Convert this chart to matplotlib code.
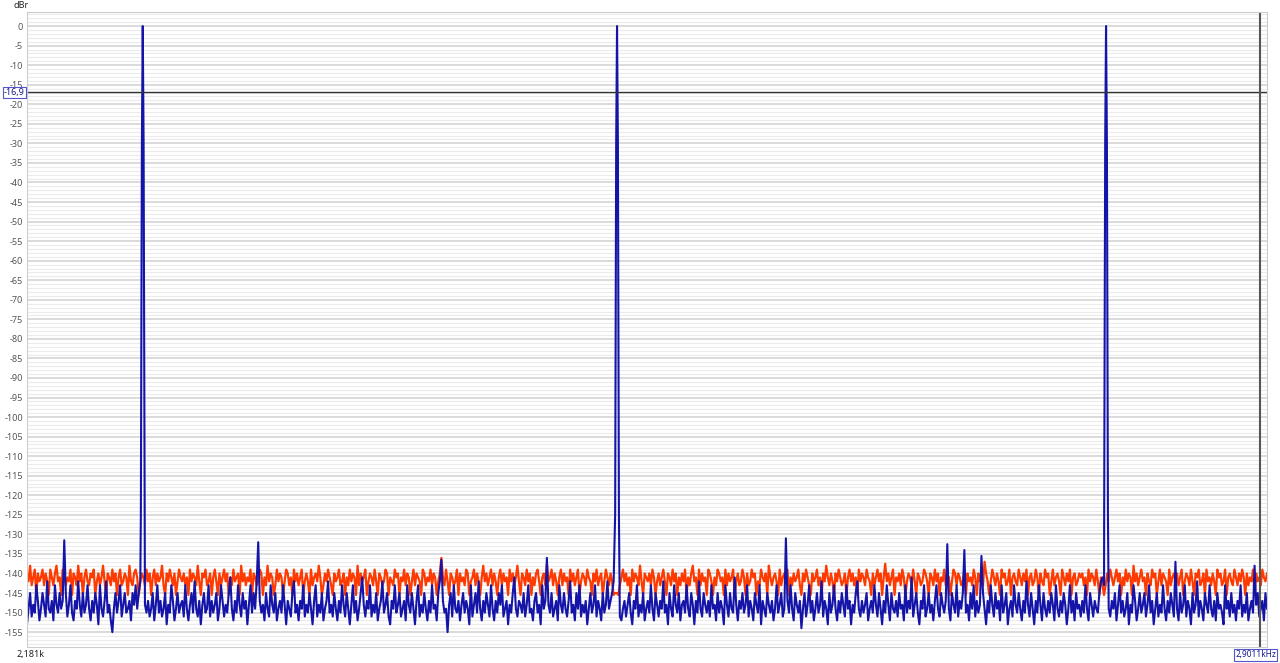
import numpy as np
import matplotlib
matplotlib.use("Agg")
import matplotlib.pyplot as plt

# частотный диапазон (Гц) и курсоры
F_START = 2181.0
F_STOP = 2905.2
CURSOR_F = 2901.1
CURSOR_DB = -16.9

# тоны (в синем канале, красный под ним не виден)
peak_freqs = [2248.6, 2525.6, 2811.2]
peak_offsets = [-1.1, -0.5, 0.0, 0.5, 1.1]
peak_levels = [-125, -30, 0, -30, -125]

# шум, синий канал (dBr)
blue = [
    -153, -149, -145, -151, -148, -150, -143, -147, -152, -149, -145, -148, -151, -142, -149, -150, -147, -152, -143, -148,
    -150, -145, -149, -147, -131.5, -145, -151, -148, -143, -150, -152, -147, -149, -142, -148, -151, -145, -150, -148, -143,
    -149, -152, -147, -150, -145, -148, -153, -143, -149, -151, -147, -142, -150, -148, -152, -155, -149, -145, -150, -147,
    -143, -151, -148, -145, -150, -149, -147, -152, -145, -148, -143, -149, -145, -142, -141, -143, -148, -150, -147, -151,
    -149, -145, -152, -148, -143, -150, -147, -151, -149, -145, -153, -148, -150, -143, -147, -152, -149, -145, -150, -148,
    -147, -151, -143, -149, -152, -148, -145, -150, -142, -149, -151, -147, -153, -148, -145, -150, -149, -143, -151, -147,
    -150, -148, -145, -152, -149, -143, -147, -151, -148, -150, -145, -141, -149, -152, -147, -150, -143, -148, -151, -145,
    -149, -147, -153, -148, -143, -150, -145, -149, -142, -132, -147, -150, -148, -152, -145, -149, -151, -143, -148, -150,
    -145, -152, -149, -147, -150, -143, -148, -153, -147, -149, -151, -145, -142, -150, -148, -152, -147, -149, -143, -151,
    -148, -150, -145, -149, -153, -147, -143, -151, -148, -150, -145, -152, -149, -147, -142, -150, -148, -151, -145, -149,
    -152, -147, -150, -143, -148, -151, -145, -149, -153, -148, -143, -150, -147, -152, -149, -145, -141, -148, -151, -147,
    -149, -143, -151, -148, -150, -145, -152, -149, -147, -142, -150, -148, -145, -151, -153, -147, -149, -143, -150, -148,
    -145, -151, -149, -147, -152, -143, -148, -150, -145, -149, -153, -147, -143, -151, -148, -150, -145, -149, -152, -147,
    -150, -143, -149, -148, -152, -145, -142, -136.5, -147, -150, -149, -155, -148, -145, -151, -143, -149, -150, -147, -152,
    -148, -145, -150, -147, -149, -153, -143, -151, -148, -145, -150, -142, -149, -152, -147, -150, -145, -148, -151, -143,
    -149, -152, -147, -150, -145, -148, -143, -151, -149, -147, -153, -148, -150, -145, -141, -149, -151, -147, -148, -150,
    -145, -151, -148, -143, -150, -149, -152, -147, -145, -150, -148, -153, -143, -149, -147, -136, -148, -150, -145, -151,
    -149, -147, -152, -143, -148, -150, -145, -149, -151, -147, -142, -150, -148, -152, -145, -149, -143, -151, -148, -150,
    -147, -153, -149, -145, -150, -148, -143, -151, -147, -149, -152, -145, -150, -148, -142, -149, -147, -145, -142, -141,
    -143, -150, -151, -152, -149, -147, -151, -148, -145, -150, -153, -147, -149, -143, -151, -148, -150, -145, -152, -149,
    -147, -150, -143, -149, -152, -145, -148, -151, -147, -149, -142, -150, -148, -153, -145, -149, -151, -143, -148, -150,
    -145, -152, -148, -147, -150, -143, -149, -151, -145, -148, -153, -147, -150, -142, -149, -151, -145, -148, -150, -147,
    -151, -143, -149, -148, -152, -145, -150, -147, -149, -153, -143, -148, -151, -145, -149, -150, -141, -148, -152, -147,
    -149, -145, -150, -148, -143, -151, -147, -149, -152, -145, -148, -150, -143, -153, -147, -149, -151, -145, -148, -150,
    -147, -152, -149, -143, -150, -148, -145, -151, -149, -131, -147, -150, -143, -149, -152, -145, -148, -150, -147, -154,
    -149, -145, -151, -148, -143, -150, -147, -152, -149, -145, -150, -148, -142, -151, -147, -149, -153, -145, -150, -148,
    -143, -149, -152, -147, -150, -145, -148, -151, -143, -149, -147, -153, -148, -150, -145, -142, -149, -151, -147, -150,
    -148, -145, -152, -149, -147, -150, -143, -148, -151, -145, -149, -153, -147, -150, -143, -148, -152, -145, -149, -150,
    -147, -151, -145, -149, -148, -152, -143, -150, -147, -149, -141, -151, -148, -145, -150, -153, -147, -149, -143, -151,
    -149, -145, -150, -148, -152, -147, -143, -149, -151, -145, -148, -150, -147, -132.5, -149, -152, -145, -148, -150, -143,
    -151, -147, -149, -145, -134, -150, -148, -152, -145, -149, -143, -151, -147, -150, -148, -135.5, -145, -149, -153, -147,
    -150, -143, -148, -151, -145, -149, -147, -152, -143, -150, -148, -145, -153, -149, -147, -151, -143, -148, -150, -145,
    -149, -152, -147, -150, -142, -148, -151, -145, -149, -153, -147, -150, -143, -148, -152, -145, -149, -151, -147, -150,
    -145, -148, -152, -143, -149, -151, -147, -150, -145, -148, -153, -149, -143, -150, -147, -152, -145, -149, -148, -151,
    -147, -150, -143, -149, -152, -145, -148, -151, -147, -149, -150, -145, -142, -141, -143, -145, -150, -149, -151, -147,
    -149, -145, -152, -148, -143, -150, -147, -151, -149, -145, -153, -148, -150, -143, -147, -152, -149, -145, -150, -148,
    -145, -151, -148, -143, -150, -147, -153, -149, -145, -151, -148, -150, -143, -149, -152, -147, -150, -145, -148, -151,
    -137, -149, -152, -145, -150, -148, -143, -151, -147, -149, -153, -145, -150, -148, -142, -151, -147, -149, -152, -145,
    -148, -150, -143, -149, -151, -147, -152, -145, -149, -148, -150, -153, -143, -149, -147, -151, -145, -150, -148, -152,
    -147, -149, -143, -151, -148, -150, -145, -152, -149, -147, -150, -138, -148, -145, -151, -149, -147, -152, -145, -149,
]

# шум, красный канал (dBr)
red = [
    -140, -142, -138, -143, -141, -139, -145.5, -140, -142, -141, -139, -143, -140, -142, -145.5, -139, -141, -143, -140, -138,
    -142, -141, -145.5, -139, -140, -143, -141, -142, -139, -145.5, -140, -141, -143, -138, -142, -140, -145.5, -141, -139, -142,
    -143, -140, -141, -139, -145.5, -142, -140, -143, -141, -138, -142, -145.5, -140, -141, -143, -139, -142, -140, -145.5, -141,
    -139, -143, -142, -140, -141, -145.5, -138, -142, -143, -140, -139, -141, -145.5, -142, -140, -141, -143, -139, -142, -140,
    -145.5, -141, -139, -143, -140, -142, -141, -138, -143, -145.5, -140, -142, -139, -141, -143, -140, -145.5, -142, -139, -141,
    -142, -140, -143, -141, -145.5, -139, -142, -140, -141, -143, -138, -142, -145.5, -140, -141, -139, -143, -142, -140, -145.5,
    -141, -139, -142, -145.5, -140, -143, -141, -139, -142, -140, -145.5, -141, -143, -139, -142, -141, -140, -145.5, -138, -142,
    -140, -143, -141, -142, -139, -145.5, -140, -141, -143, -142, -139, -140, -145.5, -141, -143, -138, -142, -140, -141, -145.5,
    -143, -139, -142, -140, -141, -145.5, -142, -139, -140, -143, -141, -145.5, -139, -142, -140, -143, -141, -139, -145.5, -142,
    -140, -142, -145.5, -139, -143, -141, -140, -142, -138, -141, -145.5, -143, -140, -142, -139, -141, -143, -145.5, -140, -142,
    -141, -139, -143, -142, -140, -145.5, -141, -143, -139, -142, -140, -141, -145.5, -138, -143, -140, -142, -141, -139, -145.5,
    -142, -140, -141, -143, -139, -142, -145.5, -140, -141, -143, -142, -139, -140, -145.5, -141, -142, -143, -139, -141, -140,
    -145.5, -141, -142, -139, -143, -140, -141, -145.5, -142, -139, -143, -140, -141, -142, -145.5, -139, -140, -143, -141, -142,
    -139, -143, -140, -141, -145.5, -142, -140, -136, -141, -143, -139, -142, -145.5, -140, -141, -143, -142, -139, -145.5, -140,
    -142, -141, -143, -139, -140, -145.5, -142, -141, -139, -143, -140, -142, -145.5, -141, -138, -142, -140, -143, -141, -139,
    -143, -140, -142, -145.5, -141, -139, -143, -140, -142, -141, -145.5, -139, -142, -140, -143, -141, -138, -142, -145.5, -140,
    -141, -143, -139, -142, -140, -145.5, -141, -143, -140, -139, -142, -145.5, -141, -140, -143, -137.5, -142, -141, -139, -143,
    -140, -142, -145.5, -141, -139, -143, -140, -142, -141, -145.5, -139, -142, -140, -143, -141, -139, -145.5, -142, -140, -141,
    -143, -139, -141, -142, -145.5, -140, -142, -139, -143, -141, -140, -145.5, -142, -139, -141, -143, -140, -142, -145.5, -145,
    -145, -145.5, -143, -141, -139, -142, -140, -143, -141, -145.5, -139, -142, -140, -141, -143, -138, -142, -145.5, -140, -141,
    -142, -140, -143, -139, -141, -145.5, -142, -140, -143, -141, -139, -142, -145.5, -140, -141, -143, -139, -142, -140, -145.5,
    -141, -143, -140, -142, -139, -145.5, -141, -143, -140, -138, -142, -141, -145.5, -139, -143, -140, -142, -141, -145.5, -139,
    -140, -142, -145.5, -141, -143, -139, -140, -142, -141, -145.5, -139, -143, -140, -142, -141, -139, -145.5, -142, -140, -143,
    -142, -139, -141, -145.5, -140, -143, -142, -139, -141, -140, -145.5, -142, -143, -139, -141, -142, -140, -145.5, -138, -141,
    -143, -141, -140, -142, -145.5, -139, -143, -141, -140, -142, -139, -145.5, -141, -143, -140, -142, -141, -139, -143, -145.5,
    -140, -142, -139, -141, -143, -145.5, -140, -142, -141, -139, -143, -141, -145.5, -140, -142, -138, -141, -143, -140, -142,
    -145.5, -140, -142, -139, -141, -143, -142, -140, -145.5, -141, -139, -142, -140, -143, -141, -145.5, -139, -142, -140, -141,
    -143, -139, -141, -142, -145.5, -140, -143, -141, -139, -142, -140, -145.5, -141, -137.5, -142, -140, -143, -141, -139, -145.5,
    -141, -142, -140, -143, -139, -141, -145.5, -142, -140, -141, -143, -139, -142, -145.5, -140, -141, -143, -142, -139, -140,
    -142, -145.5, -140, -141, -143, -139, -142, -140, -145.5, -141, -142, -139, -143, -140, -141, -145.5, -142, -139, -140, -143,
    -140, -141, -143, -142, -139, -145.5, -140, -142, -141, -143, -139, -141, -145.5, -140, -142, -141, -143, -137, -140, -142,
    -145.5, -142, -139, -141, -143, -140, -142, -145.5, -139, -141, -140, -143, -142, -139, -145.5, -141, -140, -142, -143, -139,
    -141, -143, -140, -142, -139, -145.5, -141, -140, -143, -142, -139, -141, -145.5, -140, -142, -143, -139, -141, -140, -145.5,
    -142, -139, -143, -141, -140, -142, -145.5, -139, -141, -143, -140, -142, -139, -145.5, -141, -140, -143, -142, -140, -141,
    -140, -143, -141, -145.5, -139, -142, -140, -141, -143, -139, -142, -145.5, -141, -143, -145.5, -143, -140, -142, -139, -141,
    -143, -141, -139, -142, -140, -145.5, -141, -143, -139, -142, -140, -141, -145.5, -138, -142, -140, -143, -141, -139, -142,
    -141, -145.5, -140, -142, -143, -139, -141, -140, -145.5, -142, -139, -143, -140, -141, -142, -145.5, -139, -143, -141, -140,
    -142, -140, -143, -141, -139, -145.5, -142, -140, -141, -143, -139, -142, -145.5, -140, -141, -139, -143, -142, -140, -145.5,
    -139, -142, -141, -143, -140, -142, -145.5, -139, -141, -140, -143, -142, -139, -145.5, -141, -140, -142, -143, -139, -141,
    -143, -140, -142, -139, -141, -145.5, -140, -143, -141, -142, -139, -145.5, -140, -142, -141, -143, -139, -141, -142, -140,
]


def noise_freqs(noise):
    return np.linspace(F_START, F_STOP, len(noise))


def with_peaks(noise):
    f = noise_freqs(noise)
    v = np.array(noise, dtype=float)
    # убираем точки шума под самим тоном
    keep = np.ones(len(f), dtype=bool)
    for pf in peak_freqs:
        keep &= np.abs(f - pf) > 1.1
    f = list(f[keep])
    v = list(v[keep])
    for pf in peak_freqs:
        for off, lev in zip(peak_offsets, peak_levels):
            f.append(pf + off)
            v.append(lev)
    order = np.argsort(f)
    return np.array(f)[order], np.array(v)[order]


fr, vr = noise_freqs(red), np.array(red)
fb, vb = with_peaks(blue)

plt.rcParams['font.family'] = ['Noto Sans', 'DejaVu Sans']
fig = plt.figure(figsize=(12.8, 6.63), dpi=100)
ax = fig.add_axes([27 / 1280, 16 / 663, 1240 / 1280, 635 / 663])

ax.set_xlim(F_START, F_STOP)
ax.set_ylim(-158.8, 3.6)

# сетка
ax.set_yticks(np.arange(-155, 1, 5))
ax.set_yticks(np.arange(-158, 4, 1), minor=True)
ax.grid(True, which='minor', axis='y', color='#ebebeb', lw=0.8)
ax.grid(True, which='major', axis='y', color='#d4d4d4', lw=1.2)
ax.set_axisbelow(True)
ax.set_xticks([])
ax.tick_params(axis='y', which='both', length=0, pad=3, labelsize=6.5, labelcolor='#555555')
ax.set_yticklabels([str(t) for t in range(-155, 1, 5)])
for s in ax.spines.values():
    s.set_color('#cccccc')
    s.set_linewidth(0.8)

ax.plot(fr, vr, color='#ff3a00', lw=1.6)
ax.plot(fb, vb, color='#1414a8', lw=1.5)

# курсоры
ax.axhline(CURSOR_DB, color='#333333', lw=1)
ax.axvline(CURSOR_F, color='#555555', lw=1.5)
fig.text(4 / 1280, 1 - 92.5 / 663, '-16,9', fontsize=6.5, color='#1a1a90', va='center', ha='left',
         bbox=dict(boxstyle='square,pad=0.15', fc='white', ec='#5555cc', lw=0.8))
fig.text(1276 / 1280, 1 - 655 / 663, '2,9011kHz', fontsize=6, color='#1a1a90', va='center', ha='right',
         bbox=dict(boxstyle='square,pad=0.15', fc='white', ec='#5555cc', lw=0.8))

fig.text(13 / 1280, 1 - 5 / 663, 'dBr', fontsize=6.5, color='#222222', va='center', ha='left')
fig.text(17 / 1280, 1 - 655 / 663, '2,181k', fontsize=6.5, color='#222222', va='center', ha='left')

fig.savefig('out.png', dpi=100)
